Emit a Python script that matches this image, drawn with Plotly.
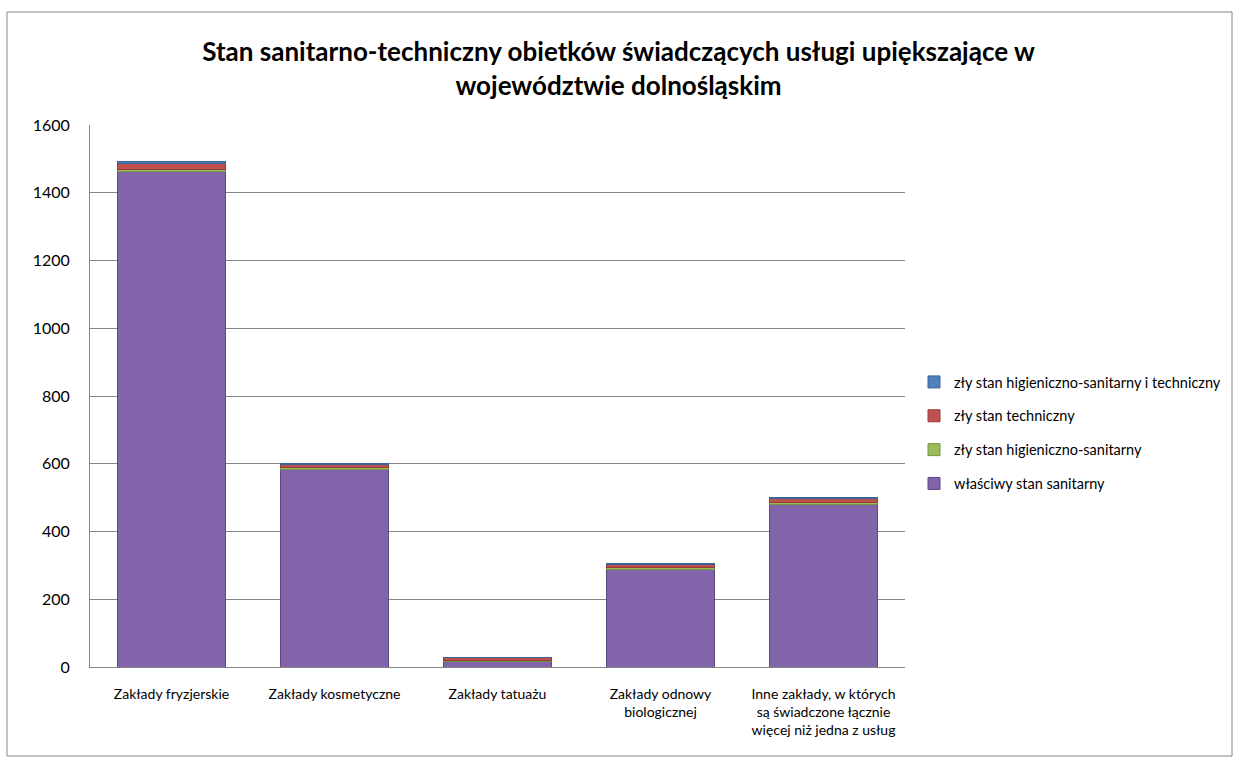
import plotly.graph_objects as go

# Kategorie zakładów (oś X)
categories = [
    "Zakłady fryzjerskie",
    "Zakłady kosmetyczne",
    "Zakłady tatuażu",
    "Zakłady odnowy<br>biologicznej",
    "Inne zakłady, w których<br>są świadczone łącznie<br>więcej niż jedna z usług",
]

# Liczba obiektów wg stanu sanitarno-technicznego
wlasciwy = [1462, 583, 17, 288, 480]
zly_hig = [8, 6, 2, 6, 6]
zly_tech = [17, 8, 9, 8, 10]
zly_hig_tech = [6, 4, 1, 4, 4]

# kolejność stosu od dołu; rank ustala kolejność w legendzie (od góry)
series = [
    ("właściwy stan sanitarny", wlasciwy, "#8264AA", "#5f4880", 4),
    ("zły stan higieniczno-sanitarny", zly_hig, "#9BBB59", "#789440", 3),
    ("zły stan techniczny", zly_tech, "#C0504D", "#943c3a", 2),
    ("zły stan higieniczno-sanitarny i techniczny", zly_hig_tech, "#4F81BD", "#3a6496", 1),
]

y_ticks = [0, 200, 400, 600, 800, 1000, 1200, 1400, 1600]

font_family = "Lato, 'Open Sans', 'DejaVu Sans', sans-serif"

fig = go.Figure()
for name, values, color, edge, rank in series:
    fig.add_trace(go.Bar(
        x=categories,
        y=values,
        name=name,
        legendgroup=name,
        legendrank=rank,
        marker=dict(color=color, line=dict(color=edge, width=1)),
    ))

W, H = 1237, 760
L, R, T, B = 90, 332, 125, 93
pw = W - L - R
ph = H - T - B

fig.update_layout(
    width=W,
    height=H,
    barmode="stack",
    bargap=0.34,
    plot_bgcolor="white",
    paper_bgcolor="white",
    margin=dict(l=L, r=R, t=T, b=B, autoexpand=False),
    font=dict(family=font_family, color="#000000"),
    title=dict(
        text="Stan sanitarno-techniczny obietków świadczących usługi upiększające w<br>województwie dolnośląskim",
        x=0.5,
        xref="container",
        xanchor="center",
        y=1 - 61 / H,
        yref="container",
        yanchor="middle",
        font=dict(family=font_family, size=26, color="#000000", weight="bold"),
    ),
    legend=dict(
        x=(914 - L) / pw,
        y=(H - B - 433) / ph,
        xanchor="left",
        yanchor="middle",
        traceorder="grouped",
        font=dict(family=font_family, size=14.5),
        itemwidth=30,
        tracegroupgap=12,
        bgcolor="rgba(0,0,0,0)",
    ),
    xaxis=dict(
        showgrid=False,
        showline=True,
        linecolor="#868686",
        linewidth=1,
        ticks="",
        ticklabelstandoff=14,
        tickfont=dict(family=font_family, size=14),
    ),
    yaxis=dict(
        range=[0, 1600],
        tickvals=y_ticks,
        showgrid=True,
        gridcolor="#868686",
        gridwidth=1,
        showline=True,
        linecolor="#868686",
        linewidth=1,
        ticks="",
        ticklabelstandoff=16,
        tickfont=dict(family=font_family, size=16),
        zeroline=False,
    ),
    shapes=[
        dict(
            type="rect",
            xref="paper",
            yref="paper",
            x0=(7 - L) / pw,
            x1=(1232 - L) / pw,
            y0=-(756 - (H - B)) / ph,
            y1=((H - B) - 12) / ph,
            line=dict(color="#868686", width=1),
            fillcolor="rgba(0,0,0,0)",
            layer="below",
        )
    ],
)

fig.write_html("out.html")
